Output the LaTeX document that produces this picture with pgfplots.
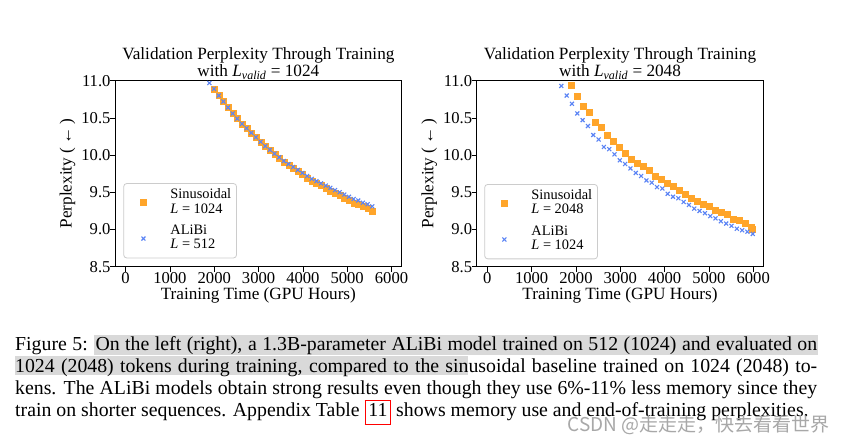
\documentclass[border=0pt]{standalone}
\usepackage{fontspec}
\setmainfont{Liberation Serif}
\newfontfamily\cjk{Noto Sans CJK SC}
\usepackage{pgfplots}
\pgfplotsset{compat=1.18}
\definecolor{sinc}{HTML}{FFA52A}
\definecolor{alic}{HTML}{5B84F5}
\definecolor{hl}{HTML}{D9D9D9}
\definecolor{wm}{HTML}{A8A8A8}
\definecolor{legframe}{HTML}{CCCCCC}
\newcommand\ticfont{\fontsize{16.6bp}{17bp}\selectfont}
\newcommand\labfont{\fontsize{17.2bp}{17.5bp}\selectfont}
\newcommand\legfont{\fontsize{14.4bp}{14.5bp}\selectfont}
\newcommand\two[2]{\begin{tabular}{@{}l@{}}\rule{0pt}{13.5bp}#1\\#2\rule[-7.7bp]{0pt}{0pt}\end{tabular}}
\pgfplotsset{myax/.style={
  scale only axis, width=286.7bp, height=186bp,
  xmin=-240, xmax=6230, ymin=8.5, ymax=11,
  xtick={0,1000,2000,3000,4000,5000,6000},
  ytick={8.5,9,9.5,10,10.5,11},
  /pgf/number format/assume math mode=true,
  yticklabel style={/pgf/number format/.cd,fixed,fixed zerofill,precision=1,/tikz/.cd, xshift=4bp},
  xticklabel style={/pgf/number format/.cd,fixed,1000 sep={},/tikz/.cd, yshift=3bp},
  tick label style={font=\ticfont},
  label style={font=\labfont},
  title style={font=\labfont, align=center, at={(0.5,1)}, anchor=south, inner sep=0pt, yshift=-5bp},
  tick align=outside, xtick pos=left, ytick pos=left,
  major tick length=5bp, tick style={black, line width=0.7bp},
  axis line style={line width=0.7bp},
  xlabel={Training Time (GPU Hours)},
  ylabel={Perplexity (\,←\,)},
  xlabel style={at={(axis description cs:0.5,-0.1532)}, anchor=center},
  ylabel style={at={(axis description cs:-0.1657,0.5)}, anchor=center},
  legend cell align=left,
  legend image code/.code={\path[draw=none,fill=none] (-14.4bp,-3bp) rectangle (27bp,3bp); \draw[##1] plot coordinates {(0bp,0bp)};},
  legend style={anchor=south west, draw=legframe, line width=0.8bp, rounded corners=3bp, fill=white,
    font=\legfont, inner xsep=5.3bp, inner ysep=1.5bp, row sep=0bp, column sep=0bp,
    nodes={inner sep=0bp, text depth=}, cells={anchor=west}},
}}
\begin{document}
\begin{tikzpicture}
\useasboundingbox (0,0) rectangle (844bp,-441bp);
\fill[white] (0,0) rectangle (844bp,-441bp);
% left
\begin{axis}[myax, at={(115bp,-266.7bp)}, anchor=south west,
  title={Validation Perplexity Through Training\\with \textit{L}\textsubscript{\textit{valid}} = 1024},
  legend style={at={(0.029,0.045)}}]
\addplot[only marks, mark=square*, mark size=3bp, color=sinc, mark options={fill=sinc, draw=sinc}] coordinates {
(2000,10.88)(2105,10.80)(2210,10.72)(2315,10.64)(2420,10.56)(2525,10.49)(2630,10.42)(2735,10.36)(2840,10.30)(2945,10.24)
(3050,10.18)(3155,10.12)(3260,10.06)(3365,10.01)(3470,9.96)(3575,9.91)(3680,9.86)(3785,9.82)(3890,9.78)(3995,9.74)
(4100,9.69)(4205,9.65)(4310,9.62)(4415,9.59)(4520,9.55)(4625,9.52)(4730,9.49)(4835,9.46)(4940,9.42)(5045,9.39)
(5150,9.36)(5255,9.34)(5360,9.31)(5465,9.28)(5570,9.25)};
\addlegendentry{\two{Sinusoidal}{\textit{L} = 1024}}
\addplot[only marks, mark=x, mark size=2.8bp, color=alic, line width=1.1bp] coordinates {
(1890,10.97)(1995,10.89)(2100,10.80)(2205,10.72)(2310,10.64)(2415,10.56)(2520,10.49)(2625,10.42)(2730,10.36)(2835,10.30)
(2940,10.24)(3045,10.18)(3150,10.12)(3255,10.07)(3360,10.02)(3465,9.97)(3570,9.92)(3675,9.88)(3780,9.84)(3885,9.80)
(3990,9.76)(4095,9.72)(4200,9.68)(4305,9.65)(4410,9.62)(4515,9.59)(4620,9.56)(4725,9.53)(4830,9.50)(4935,9.47)
(5040,9.44)(5145,9.41)(5250,9.39)(5355,9.36)(5460,9.34)(5565,9.31)};
\addlegendentry{\two{ALiBi}{\textit{L} = 512}}
\end{axis}
% right
\begin{axis}[myax, at={(476.7bp,-266.7bp)}, anchor=south west,
  title={Validation Perplexity Through Training\\with \textit{L}\textsubscript{\textit{valid}} = 2048},
  legend style={at={(0.0265,0.04)}}]
\addplot[only marks, mark=square*, mark size=3bp, color=sinc, mark options={fill=sinc, draw=sinc}] coordinates {
(1900,10.94)(2030,10.79)(2160,10.66)(2300,10.57)(2440,10.44)(2570,10.37)(2710,10.27)(2840,10.19)(2980,10.10)(3110,10.02)
(3250,9.94)(3380,9.89)(3520,9.85)(3650,9.80)(3790,9.72)(3920,9.67)(4060,9.62)(4190,9.58)(4330,9.53)(4460,9.47)
(4600,9.42)(4730,9.38)(4870,9.34)(5000,9.31)(5140,9.26)(5270,9.23)(5410,9.20)(5540,9.14)(5680,9.13)(5810,9.09)
(5950,9.03)(5985,9.01)};
\addlegendentry{\two{Sinusoidal}{\textit{L} = 2048}}
\addplot[only marks, mark=x, mark size=2.8bp, color=alic, line width=1.1bp] coordinates {
(1670,10.93)(1790,10.80)(1910,10.69)(2030,10.56)(2150,10.47)(2270,10.39)(2390,10.27)(2510,10.21)(2630,10.11)(2750,10.08)
(2870,10.01)(2990,9.93)(3110,9.88)(3230,9.82)(3350,9.76)(3470,9.72)(3590,9.66)(3710,9.63)(3830,9.57)(3950,9.55)
(4070,9.48)(4190,9.44)(4310,9.42)(4430,9.37)(4550,9.33)(4670,9.28)(4790,9.25)(4910,9.22)(5030,9.18)(5150,9.15)
(5270,9.11)(5390,9.08)(5510,9.05)(5630,9.01)(5750,8.99)(5870,8.97)(5990,8.94)};
\addlegendentry{\two{ALiBi}{\textit{L} = 1024}}
\end{axis}
% caption
\fill[hl] (94.3bp,-335bp) rectangle (817.7bp,-354.5bp);
\fill[hl] (15bp,-355.5bp) rectangle (467.7bp,-375bp);
\begin{scope}[every node/.style={anchor=base west, inner sep=0pt, font=\fontsize{19.8bp}{22bp}\selectfont}]
\node at (15bp,-350bp) {\makebox[802bp][s]{Figure 5: On the left (right), a 1.3B-parameter ALiBi model trained on 512 (1024) and evaluated on}};
\node at (15bp,-372bp) {\makebox[802bp][s]{1024 (2048) tokens during training, compared to the sinusoidal baseline trained on 1024 (2048) to-}};
\node at (15bp,-394bp) {\makebox[802bp][s]{kens. The ALiBi models obtain strong results even though they use 6\%-11\% less memory since they}};
\node at (15bp,-416bp) {train on shorter sequences. Appendix Table {\fboxrule=0.8bp\fboxsep=0pt\fcolorbox{red}{white}{\rule[-8bp]{0pt}{23bp}\hspace{3bp}11\hspace{3bp}}} shows memory use and end-of-training perplexities.};
\end{scope}
\node[anchor=base east, inner sep=0pt, text=wm, font=\cjk\fontsize{19bp}{19bp}\selectfont] at (830bp,-431bp) {CSDN @走走走，快去看看世界};
\end{tikzpicture}
\end{document}
